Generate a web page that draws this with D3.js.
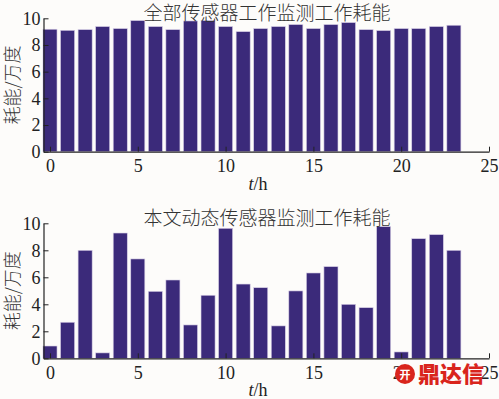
<!DOCTYPE html>
<html>
<head>
<meta charset="utf-8">
<script src="https://d3js.org/d3.v7.min.js"></script>
<style>
  body { margin: 0; padding: 0; background: #fdfcfa; }
  svg { display: block; }
  .tick text { font-family: "Liberation Serif", serif; font-size: 18px; fill: #222; }
  .cn { font-family: "Noto Sans CJK SC", sans-serif; font-weight: 300; fill: #333; }
</style>
</head>
<body>
<div id="chart"></div>
<script>
var hours = d3.range(0, 24);
var allSensors = [9.18, 9.1, 9.15, 9.38, 9.23, 9.83, 9.38, 9.15, 9.8, 9.83, 9.38, 9.0,
                  9.23, 9.38, 9.53, 9.23, 9.53, 9.68, 9.15, 9.08, 9.23, 9.23, 9.38, 9.48];
var dynamicSensors = [0.91, 2.67, 8.0, 0.4, 9.28, 7.36, 4.96, 5.8, 2.47, 4.67, 9.63, 5.5,
                      5.23, 2.4, 4.99, 6.32, 6.79, 4.0, 3.75, 9.75, 0.47, 8.86, 9.16, 8.0];
var xTicks = [0, 5, 10, 15, 20, 25];
var yTicks = [0, 2, 4, 6, 8, 10];

var W = 499, H = 399;
var svg = d3.select("#chart").append("svg").attr("width", W).attr("height", H);

var x = d3.scaleLinear().domain([-0.37, 25]).range([43.5, 489]);
var barW = 0.8;

function panel(values, title, top, bottom) {
  var y = d3.scaleLinear().domain([0, 10]).range([bottom, top]);
  var g = svg.append("g");

  g.selectAll("rect").data(values).enter().append("rect")
    .attr("x", function(d, i) { return x(hours[i] - barW / 2); })
    .attr("width", x(barW) - x(0))
    .attr("y", function(d) { return y(d); })
    .attr("height", function(d) { return y(0) - y(d); })
    .attr("fill", "#3b2a7a")
    .attr("stroke", "#d8cfe6")
    .attr("stroke-width", 0.6);

  var xa = g.append("g").attr("transform", "translate(0," + bottom + ")")
    .call(d3.axisBottom(x).tickValues(xTicks).tickSizeInner(-5).tickSizeOuter(0).tickPadding(8));
  var ya = g.append("g").attr("transform", "translate(" + x(-0.37) + ",0)")
    .call(d3.axisLeft(y).tickValues(yTicks).tickSizeInner(-5).tickSizeOuter(0).tickPadding(3));
  [xa, ya].forEach(function(a) {
    a.select(".domain").attr("stroke", "#222").attr("stroke-width", 1.2);
    a.selectAll(".tick line").attr("stroke", "#222");
  });

  g.append("text").attr("class", "cn")
    .attr("x", 267).attr("y", top + 2)
    .attr("text-anchor", "middle").attr("font-size", 19)
    .text(title);

  g.append("text").attr("class", "cn")
    .attr("transform", "translate(19," + ((top + bottom) / 2) + ") rotate(-90)")
    .attr("text-anchor", "middle").attr("font-size", 18)
    .text("耗能/万度");

  var xl = g.append("text")
    .attr("x", 258).attr("y", bottom + 38)
    .attr("text-anchor", "middle")
    .attr("font-family", "Liberation Serif, serif").attr("font-size", 18).attr("fill", "#222");
  xl.append("tspan").attr("font-style", "italic").text("t");
  xl.append("tspan").text("/h");
}

panel(allSensors, "全部传感器工作监测工作耗能", 18.3, 151.7);
panel(dynamicSensors, "本文动态传感器监测工作耗能", 223.3, 358.3);

// watermark
var wm = svg.append("g");
wm.append("circle").attr("cx", 405).attr("cy", 374).attr("r", 10).attr("fill", "#d9251c");
wm.append("text").attr("x", 405).attr("y", 378.5).attr("text-anchor", "middle")
  .attr("font-family", "Noto Sans CJK SC").attr("font-weight", 700).attr("font-size", 11)
  .attr("fill", "#fff").text("开");
wm.append("text").attr("x", 418).attr("y", 382)
  .attr("font-family", "Noto Sans CJK SC").attr("font-weight", 900).attr("font-size", 22)
  .attr("fill", "#d9251c").text("鼎达信");
</script>
</body>
</html>
